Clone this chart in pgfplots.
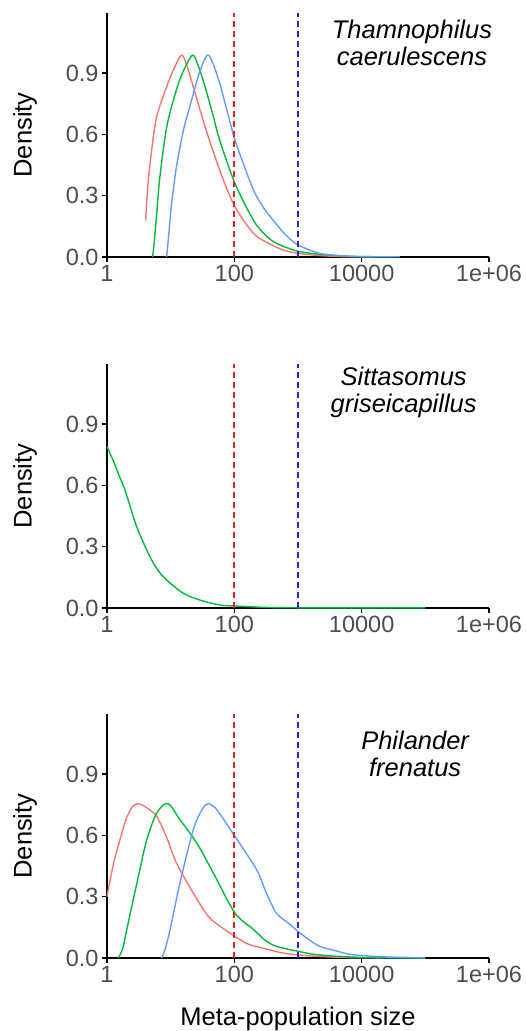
\documentclass[border=0pt]{standalone}
\usepackage{fontspec}
\setmainfont{Liberation Sans}
\usepackage{pgfplots}
\pgfplotsset{compat=1.18}

\definecolor{ggred}{HTML}{F8766D}
\definecolor{gggreen}{HTML}{00BA38}
\definecolor{ggblue}{HTML}{619CFF}
\definecolor{vred}{HTML}{E42224}
\definecolor{vblue}{HTML}{2424D8}
\definecolor{ticktext}{HTML}{4D4D4D}

\tikzset{
  vline/.style={line width=1.8pt, dash pattern=on 6pt off 4pt, sharp plot},
  species/.style={font=\itshape\fontsize{25.5}{27}\selectfont, align=center},
  ylab/.style={rotate=90, font=\fontsize{25.5}{28}\selectfont},
}
\pgfplotsset{
  panel/.style={
    scale only axis, width=382pt, height=244pt,
    xmin=0, xmax=6, ymin=0, ymax=1.194,
    axis lines=left, axis line style={-, line width=1.5pt, black},
    xtick={0,2,4,6}, xticklabels={1,100,10000,1e+06},
    ytick={0,0.3,0.6,0.9},
    yticklabel style={/pgf/number format/.cd, fixed, fixed zerofill, precision=1},
    /pgf/number format/assume math mode=true,
    tick align=outside, major tick length=5pt,
    tick style={black, line width=1.2pt},
    ticklabel style={font=\fontsize{23.5}{26}\selectfont, text=ticktext},
    clip=false,
    every axis plot/.append style={line width=1.4pt, smooth, tension=0.5},
  },
}

\begin{document}
\begin{tikzpicture}
\useasboundingbox (-107pt,-774pt) rectangle (418pt,257pt);

% Thamnophilus caerulescens
\begin{axis}[panel, at={(0,0)}, anchor=south west]
\addplot[ggred] coordinates {(0.607,0.18) (0.63,0.30) (0.65,0.377) (0.70,0.52) (0.78,0.686) (0.937,0.833) (1.05,0.92) (1.17,0.988) (1.25,0.94) (1.355,0.833) (1.47,0.71) (1.59,0.589) (1.80,0.40) (2.01,0.246) (2.30,0.116) (2.55,0.065) (2.77,0.034) (3.0,0.018) (3.3,0.008) (3.7,0.002) (4.2,0.001)};
\addplot[gggreen] coordinates {(0.717,0) (0.75,0.10) (0.78,0.21) (0.83,0.39) (0.94,0.64) (1.09,0.817) (1.2,0.91) (1.345,0.988) (1.44,0.93) (1.54,0.833) (1.66,0.70) (1.77,0.572) (2.01,0.36) (2.30,0.18) (2.48,0.11) (2.66,0.067) (3.03,0.026) (3.55,0.008) (4.0,0.002) (4.5,0.001)};
\addplot[ggblue] coordinates {(0.937,0) (0.97,0.11) (1.01,0.246) (1.09,0.44) (1.20,0.62) (1.30,0.735) (1.45,0.90) (1.575,0.988) (1.66,0.95) (1.77,0.85) (1.89,0.71) (2.01,0.572) (2.15,0.45) (2.30,0.328) (2.45,0.245) (2.61,0.18) (2.80,0.11) (3.0,0.059) (3.34,0.018) (3.7,0.006) (4.0,0.002) (4.6,0.001)};
\addplot[vred, vline] coordinates {(2,0) (2,1.194)};
\addplot[vblue, vline] coordinates {(3,0) (3,1.194)};
\node[species] at (axis cs:4.79,1.05) {Thamnophilus\\caerulescens};
\node[ylab] at ([xshift=-82pt]axis description cs:0,0.5) {Density};
\end{axis}

% Sittasomus griseicapillus
\begin{axis}[panel, at={(0,-351pt)}, anchor=south west]
\addplot[gggreen] coordinates {(0,0.79) (0.1,0.72) (0.2,0.64) (0.283,0.577) (0.466,0.398) (0.675,0.251) (0.8,0.185) (0.937,0.137) (1.2,0.072) (1.46,0.039) (1.77,0.015) (2.0,0.01) (2.5,0.003) (3.0,0.001) (4.0,0.001) (5.0,0.001)};
\addplot[vred, vline] coordinates {(2,0) (2,1.194)};
\addplot[vblue, vline] coordinates {(3,0) (3,1.194)};
\node[species] at (axis cs:4.66,1.057) {Sittasomus\\griseicapillus};
\node[ylab] at ([xshift=-82pt]axis description cs:0,0.5) {Density};
\end{axis}

% Philander frenatus
\begin{axis}[panel, at={(0,-701pt)}, anchor=south west]
\addplot[ggred] coordinates {(0,0.30) (0.1,0.46) (0.204,0.579) (0.3,0.68) (0.40,0.74) (0.49,0.755) (0.6,0.74) (0.78,0.693) (0.95,0.58) (1.09,0.465) (1.355,0.318) (1.59,0.204) (1.8,0.15) (2.01,0.106) (2.2,0.07) (2.34,0.057) (2.55,0.04) (2.77,0.024) (3.0,0.015) (3.3,0.008) (3.8,0.002) (4.3,0.001)};
\addplot[gggreen] coordinates {(0.18,0) (0.25,0.05) (0.31,0.138) (0.47,0.367) (0.625,0.579) (0.78,0.709) (0.92,0.755) (1.0,0.745) (1.146,0.677) (1.41,0.563) (1.67,0.416) (2.01,0.22) (2.30,0.14) (2.48,0.088) (2.66,0.057) (3.0,0.033) (3.3,0.016) (3.83,0.005) (4.3,0.001) (5,0.001)};
\addplot[ggblue] coordinates {(0.86,0) (0.92,0.05) (0.99,0.138) (1.146,0.367) (1.355,0.628) (1.50,0.73) (1.59,0.755) (1.70,0.735) (1.80,0.693) (2.01,0.595) (2.35,0.432) (2.50,0.32) (2.66,0.22) (2.85,0.17) (3.0,0.13) (3.15,0.095) (3.34,0.057) (3.6,0.035) (3.81,0.018) (4.1,0.01) (4.4,0.005) (5.0,0.001)};
\addplot[vred, vline] coordinates {(2,0) (2,1.194)};
\addplot[vblue, vline] coordinates {(3,0) (3,1.194)};
\node[species] at (axis cs:4.84,1.0) {Philander\\frenatus};
\node[ylab] at ([xshift=-82pt]axis description cs:0,0.5) {Density};
\node[font=\fontsize{25.5}{28}\selectfont, anchor=base] at ([yshift=-67pt]axis description cs:0.5,0) {Meta-population size};
\end{axis}
\end{tikzpicture}
\end{document}
